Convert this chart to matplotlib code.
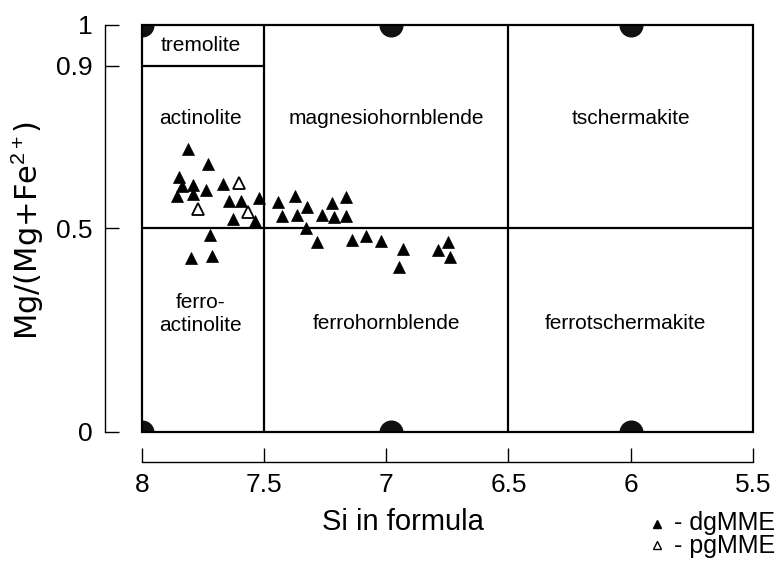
import matplotlib
matplotlib.use("Agg")
import matplotlib.pyplot as plt
from matplotlib.patches import Rectangle
from matplotlib.lines import Line2D
from matplotlib.path import Path

plt.rcParams['font.family'] = ['Liberation Sans', 'DejaVu Sans']
plt.rcParams['mathtext.fontset'] = 'custom'
plt.rcParams['mathtext.rm'] = 'Liberation Sans'
plt.rcParams['mathtext.it'] = 'Liberation Sans:italic'

# dgMME analyses (filled triangles)
dg_si = [7.809, 7.728, 7.846, 7.836, 7.789, 7.738, 7.854, 7.791, 7.666, 7.642,
         7.595, 7.520, 7.625, 7.535, 7.721, 7.800, 7.714, 7.444, 7.373, 7.323,
         7.427, 7.366, 7.223, 7.164, 7.264, 7.213, 7.166, 7.329, 7.282, 7.139,
         7.083, 7.022, 6.933, 6.946, 6.787, 6.746, 6.739]
dg_mg = [0.694, 0.658, 0.627, 0.604, 0.607, 0.594, 0.580, 0.584, 0.608, 0.567,
         0.567, 0.574, 0.523, 0.519, 0.483, 0.426, 0.432, 0.566, 0.580, 0.553,
         0.530, 0.533, 0.562, 0.576, 0.533, 0.529, 0.531, 0.500, 0.467, 0.471,
         0.482, 0.469, 0.449, 0.404, 0.447, 0.466, 0.429]

# pgMME analyses (open triangles)
pg_si = [7.602, 7.768, 7.566]
pg_mg = [0.611, 0.547, 0.541]

# field boundaries and labels
si_bounds = [7.5, 6.5]
mg_bound = 0.5
trem_bound = 0.9
dots_si = [8, 6.98, 6, 8, 6.98, 6]
dots_mg = [1, 1, 1, 0, 0, 0]
# part of each dot that lies inside the frame (degrees)
dots_arc = [(270, 360), (180, 360), (180, 360), (0, 90), (0, 180), (0, 180)]

fields = ['tremolite', 'actinolite', 'magnesiohornblende', 'tschermakite',
          'ferro-\nactinolite', 'ferrohornblende', 'ferrotschermakite']
field_x = [7.76, 7.76, 7.0, 6.0, 7.76, 7.0, 6.02]
field_y = [0.95, 0.77, 0.77, 0.77, 0.29, 0.265, 0.265]

xticks = [8, 7.5, 7, 6.5, 6, 5.5]
xticklabels = ['8', '7.5', '7', '6.5', '6', '5.5']
yticks = [0, 0.5, 0.9, 1]
yticklabels = ['0', '0.5', '0.9', '1']

fig = plt.figure(figsize=(7.79, 5.63), dpi=100)
ax = fig.add_axes([0.1819, 0.2332, 0.7847, 0.7224])
ax.set_xlim(8, 5.5)
ax.set_ylim(0, 1)

# frame of the diagram
ax.add_patch(Rectangle((0, 0), 1, 1, transform=ax.transAxes, fill=False,
                       lw=1.6, ec='black', zorder=5, clip_on=False))
ax.axhline(mg_bound, color='black', lw=1.6, zorder=4)
for s in si_bounds:
    ax.axvline(s, color='black', lw=1.6, zorder=4)
ax.plot([8, 7.5], [trem_bound, trem_bound], color='black', lw=1.6, zorder=4)

# half / quarter dots sitting on the frame
for x, y, (a1, a2) in zip(dots_si, dots_mg, dots_arc):
    ax.plot([x], [y], marker=Path.wedge(a1, a2), color='#111111', ms=17.3,
            mew=0, ls='none', zorder=3, clip_on=False)

for t, x, y in zip(fields, field_x, field_y):
    ax.text(x, y, t, ha='center', va='center', fontsize=15, linespacing=1.3)

ax.plot(dg_si, dg_mg, '^', color='black', ms=8.5, mew=0.5, ls='none', zorder=6)
ax.plot(pg_si, pg_mg, '^', mfc='white', mec='black', ms=8, mew=1.3,
        ls='none', zorder=6)

# offset axes like a bracket
for side in ['top', 'right']:
    ax.spines[side].set_visible(False)
ax.spines['left'].set_position(('outward', 26.5))
ax.spines['bottom'].set_position(('outward', 21.5))
for side in ['left', 'bottom']:
    ax.spines[side].set_linewidth(1.0)
ax.set_xticks(xticks)
ax.set_xticklabels(xticklabels)
ax.set_yticks(yticks)
ax.set_yticklabels(yticklabels)
ax.tick_params(direction='in', length=10, width=1.0, labelsize=19)
ax.tick_params(axis='y', pad=9)
ax.tick_params(axis='x', pad=8)

ax.set_xlabel('Si in formula', fontsize=21)
ax.xaxis.set_label_coords(0.4275, -0.222)
ax.xaxis.label.set_va('center')
ax.set_ylabel('Mg/(Mg+Fe$^{2+}$)', fontsize=22, family='DejaVu Sans')
ax.yaxis.set_label_coords(-0.1876, 0.496)
ax.yaxis.label.set_va('center')

# legend in the lower right corner
fig.add_artist(Line2D([657 / 779], [1 - 524 / 563], marker='^', color='black',
                      ms=6, ls='none', transform=fig.transFigure))
fig.add_artist(Line2D([657 / 779], [1 - 545 / 563], marker='^', mfc='white',
                      mec='black', ms=5.5, mew=1.0, ls='none',
                      transform=fig.transFigure))
fig.text(775 / 779, 1 - 523 / 563, '- dgMME', ha='right', va='center', fontsize=18)
fig.text(775 / 779, 1 - 546 / 563, '- pgMME', ha='right', va='center', fontsize=18)

fig.savefig('out.png', dpi=100)
